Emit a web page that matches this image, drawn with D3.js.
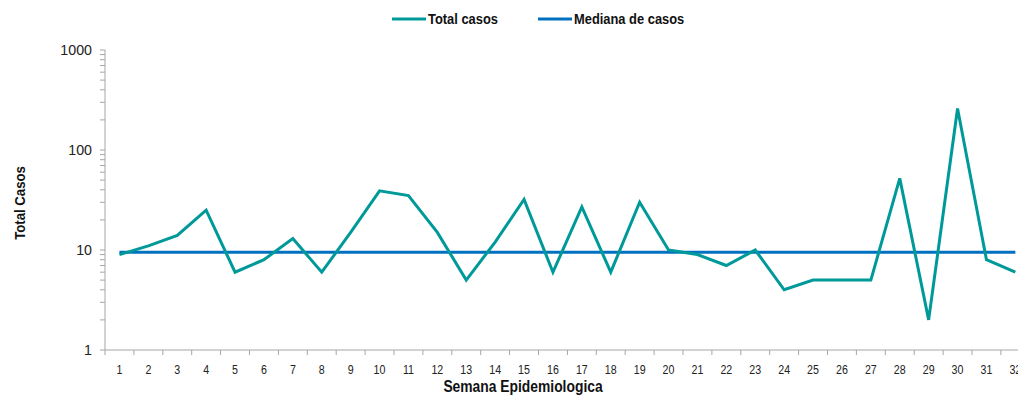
<!DOCTYPE html>
<html><head><meta charset="utf-8">
<script src="https://cdn.jsdelivr.net/npm/d3@7"></script>
<style>
body{margin:0;background:#fff;}
text{font-family:"Liberation Sans",Arial,sans-serif;}
</style></head>
<body><svg id="chart" width="1018" height="395"></svg>
<script>
const weeks = d3.range(1, 33).map(String);
const totalCasos = [9,11,14,25,6,8,13,6,15,39,35,15,5,12,32,6,27,6,30,10,9,7,10,4,5,5,5,52,2,260,8,6];
const medianaCasos = [9.5,9.5,9.5,9.5,9.5,9.5,9.5,9.5,9.5,9.5,9.5,9.5,9.5,9.5,9.5,9.5,9.5,9.5,9.5,9.5,9.5,9.5,9.5,9.5,9.5,9.5,9.5,9.5,9.5,9.5,9.5,9.5];
const yTicks = [1, 10, 100, 1000];
const seriesNames = ["Total casos", "Mediana de casos"];
const colors = ["#00999A", "#0070C0"];

const svg = d3.select("#chart");
const mLeft = 105, mTop = 50, mBottom = 350, band = 28.9;
const x = d3.scaleBand().domain(weeks).range([mLeft, mLeft + band * weeks.length]).padding(0);
const y = d3.scaleLog().domain([1, 1000]).range([mBottom, mTop]);
const axisColor = "#a6a6a6";

// Y axis
const yAxisG = svg.append("g").attr("transform", `translate(${mLeft},0)`);
yAxisG.append("line").attr("x1",0).attr("x2",0).attr("y1",mTop).attr("y2",mBottom).attr("stroke",axisColor);
const minor = [];
[1,10,100].forEach(d => { for (let k=1;k<10;k++) minor.push(d*k); });
minor.push(1000);
yAxisG.selectAll("line.tk").data(minor).enter().append("line").attr("class","tk")
  .attr("x1",-5).attr("x2",0).attr("y1",d=>y(d)).attr("y2",d=>y(d)).attr("stroke",axisColor);
yAxisG.selectAll("text").data(yTicks).enter().append("text")
  .attr("transform",d=>`translate(-13,${y(d)}) scale(0.95,1)`).attr("dy","0.35em").attr("text-anchor","end")
  .attr("font-size",15).attr("fill","#222").text(d=>d);

// X axis
const xAxisG = svg.append("g");
xAxisG.append("line").attr("x1",mLeft).attr("x2",mLeft + band*weeks.length).attr("y1",mBottom).attr("y2",mBottom).attr("stroke",axisColor);
xAxisG.selectAll("line.tk").data(d3.range(weeks.length+1)).enter().append("line").attr("class","tk")
  .attr("x1",i=>mLeft+i*band).attr("x2",i=>mLeft+i*band).attr("y1",mBottom).attr("y2",mBottom+5).attr("stroke",axisColor);
xAxisG.selectAll("text").data(weeks).enter().append("text")
  .attr("transform",d=>`translate(${x(d)+x.bandwidth()/2},369) scale(0.82,1)`).attr("dy","0.35em").attr("text-anchor","middle")
  .attr("font-size",13).attr("fill","#222").text(d=>d);

// Lines
const line = d3.line().x((d,i)=>x(weeks[i])+x.bandwidth()/2).y(d=>y(d));
svg.append("path").datum(medianaCasos).attr("d",line).attr("fill","none").attr("stroke",colors[1]).attr("stroke-width",3);
svg.append("path").datum(totalCasos).attr("d",line).attr("fill","none").attr("stroke",colors[0]).attr("stroke-width",3).attr("stroke-linejoin","miter");

// Axis titles
svg.append("text").attr("transform","translate(523,392) scale(0.84,1)").attr("text-anchor","middle").attr("font-size",16.5).attr("font-weight","bold").attr("fill","#111").text("Semana Epidemiologica");
svg.append("text").attr("transform","translate(25,203) rotate(-90) scale(0.88,1)").attr("text-anchor","middle").attr("font-size",15).attr("font-weight","bold").attr("fill","#111").text("Total Casos");

// Legend
const legend = [{name:seriesNames[0], c:colors[0], x1:392}, {name:seriesNames[1], c:colors[1], x1:538}];
const lg = svg.append("g");
lg.selectAll("line").data(legend).enter().append("line")
  .attr("x1",d=>d.x1).attr("x2",d=>d.x1+34).attr("y1",19).attr("y2",19).attr("stroke",d=>d.c).attr("stroke-width",3);
lg.selectAll("text").data(legend).enter().append("text")
  .attr("transform",d=>`translate(${d.x1+36},19) scale(0.86,1)`).attr("dy","0.35em").attr("font-size",15).attr("font-weight","bold").attr("fill","#111").text(d=>d.name);
</script></body></html>
